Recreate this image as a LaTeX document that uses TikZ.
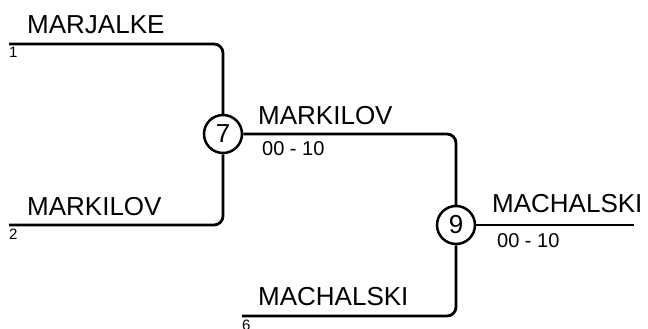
\documentclass[tikz,border=0pt]{standalone}
\usepackage{fontspec}
\setmainfont{Liberation Sans}
\begin{document}
\begin{tikzpicture}[x=1pt,y=-1pt,
  wire/.style={line width=2.8pt, rounded corners=9pt},
  matchnode/.style={circle, draw, line width=2.5pt, minimum size=38pt, inner sep=0pt, font=\fontsize{26}{26}\selectfont},
  namelbl/.style={anchor=base west, inner sep=0pt, font=\fontsize{26}{27}\selectfont},
  seedlbl/.style={anchor=north west, inner sep=0pt, font=\fontsize{15}{16}\selectfont},
  scorelbl/.style={anchor=base west, inner sep=0pt, font=\fontsize{20}{21}\selectfont}]
\useasboundingbox (0,0) rectangle (648,329);
\node[matchnode] (c7) at (223,134) {7};
\node[matchnode] (c9) at (456,225) {9};
\coordinate (s1) at (9,44);
\coordinate (s2) at (9,225);
\coordinate (s6) at (242,316);
\coordinate (fin) at (634,225);
\draw[wire] (s1) -| (c7);
\draw[wire] (s2) -| (c7);
\draw[wire] (c7) -| (c9);
\draw[wire] (s6) -| (c9);
\draw[wire] (c9) -- (fin);
\node[namelbl] (n1) at (27,33.5) {MARJALKE};
\node[seedlbl] (d1) at (9,47) {1};
\node[namelbl] (n2) at (27,215) {MARKILOV};
\node[seedlbl] (d2) at (9,228.5) {2};
\node[namelbl] (n7) at (258,124) {MARKILOV};
\node[scorelbl] (r7) at (262,155) {00 - 10};
\node[namelbl] (n9) at (492,212) {MACHALSKI};
\node[scorelbl] (r9) at (497,247) {00 - 10};
\node[namelbl] (n6) at (258,305) {MACHALSKI};
\node[seedlbl] (d6) at (242,319.5) {6};
\end{tikzpicture}
\end{document}
